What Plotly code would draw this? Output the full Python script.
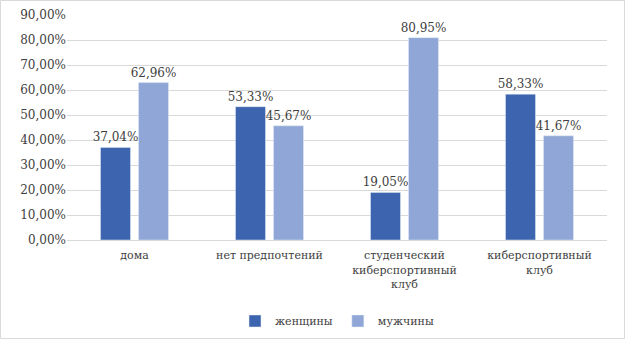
import plotly.graph_objects as go

categories = ["дома", "нет предпочтений", "студенческий<br>киберспортивный<br>клуб", "киберспортивный<br>клуб"]
women = [0.3704, 0.5333, 0.1905, 0.5833]
men = [0.6296, 0.4567, 0.8095, 0.4167]
tick_vals = [i / 10 for i in range(10)]

W, H = 625, 339
ml, mr, mt, mb = 67, 18, 15, 99
pw, ph = W - ml - mr, H - mt - mb

font = dict(family="DejaVu Serif", size=12, color="#404040")
catfont = dict(family="DejaVu Serif", size=11, color="#404040")

fig = go.Figure()
fig.add_trace(go.Bar(name="женщины", x=categories, y=women, marker_color="#3D64AE",
                     texttemplate="%{y:.2%}", textposition="outside", cliponaxis=False,
                     constraintext="none", textfont=font))
fig.add_trace(go.Bar(name="мужчины", x=categories, y=men, marker_color="#8FA6D6",
                     texttemplate="%{y:.2%}", textposition="outside", cliponaxis=False,
                     constraintext="none", textfont=font))

fig.update_layout(
    width=W, height=H,
    margin=dict(l=ml, r=mr, t=mt, b=mb, autoexpand=False),
    paper_bgcolor="white", plot_bgcolor="white",
    separators=", ",
    font=font,
    barmode="group", bargap=0.437, bargroupgap=0.21,
    legend=dict(orientation="h", x=0.5, xanchor="center", y=(240 - 321) / ph, yanchor="middle",
                font=catfont, itemwidth=30, tracegroupgap=0),
    yaxis=dict(range=[0, 0.9], tickvals=tick_vals, tickformat=".2%", showgrid=True,
               gridcolor="#D9D9D9", gridwidth=1, zeroline=False, showline=False,
               ticks="", tickfont=font, automargin=False),
    xaxis=dict(showline=True, linecolor="#D9D9D9", linewidth=1, ticks="", tickfont=catfont,
               automargin=False, ticklabelstandoff=5),
    shapes=[dict(type="rect", xref="paper", yref="paper",
                 x0=(0.5 - ml) / pw, x1=(W - 0.5 - ml) / pw,
                 y0=(240 - (H - 0.5)) / ph, y1=(240 - 0.5) / ph,
                 line=dict(color="#D9D9D9", width=1))],
)

fig.write_html("out.html")
